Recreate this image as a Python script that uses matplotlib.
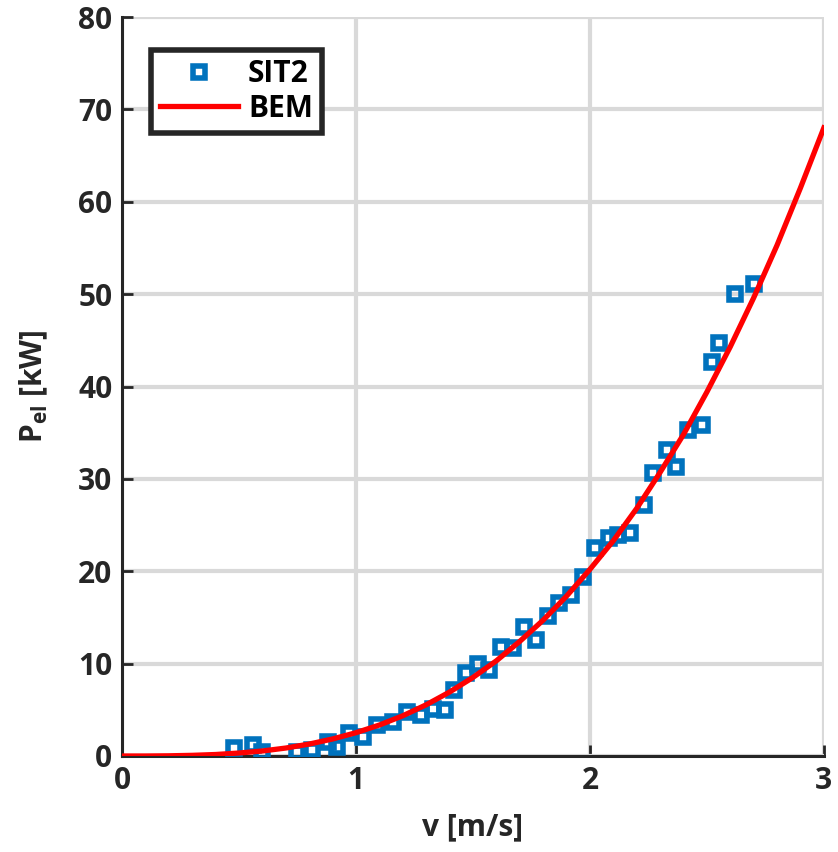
import numpy as np
import matplotlib
matplotlib.use('Agg')
import matplotlib.pyplot as plt

# measured points (SIT2)
v_sit2 = [0.48, 0.56, 0.60, 0.75, 0.81, 0.88, 0.92, 0.97, 1.03, 1.09, 1.16, 1.22,
          1.28, 1.33, 1.38, 1.42, 1.47, 1.52, 1.57, 1.62, 1.67, 1.72, 1.77, 1.82,
          1.87, 1.92, 1.97, 2.02, 2.08, 2.12, 2.17, 2.23, 2.27, 2.33, 2.37, 2.42,
          2.48, 2.52, 2.55, 2.62, 2.70]
p_sit2 = [0.9, 1.2, 0.4, 0.4, 0.7, 1.5, 1.0, 2.5, 2.1, 3.4, 3.7, 4.8,
          4.4, 5.1, 5.0, 7.1, 9.0, 10.0, 9.3, 11.8, 11.7, 14.0, 12.6, 15.2,
          16.6, 17.4, 19.4, 22.5, 23.6, 23.9, 24.1, 27.2, 30.6, 33.1, 31.3, 35.3,
          35.8, 42.6, 44.7, 50.0, 51.1]

# BEM curve
v_bem = [0.0, 0.1, 0.2, 0.3, 0.4, 0.5, 0.6, 0.7, 0.8, 0.9, 1.0, 1.1, 1.2, 1.3, 1.4,
         1.5, 1.6, 1.7, 1.8, 1.9, 2.0, 2.1, 2.2, 2.3, 2.4, 2.5, 2.6, 2.7, 2.8, 2.9, 3.0]
p_bem = [0.0, 0.0, 0.02, 0.07, 0.16, 0.32, 0.54, 0.86, 1.29, 1.84, 2.52, 3.35, 4.35,
         5.54, 6.92, 8.5, 10.3, 12.4, 14.7, 17.3, 20.2, 23.3, 26.8, 30.7, 34.8,
         39.4, 44.3, 49.6, 55.3, 61.5, 68.0]

plt.rcParams['font.family'] = ['Open Sans', 'DejaVu Sans']
plt.rcParams['font.weight'] = 'bold'
plt.rcParams['mathtext.fontset'] = 'custom'
plt.rcParams['mathtext.rm'] = 'Open Sans:bold'
plt.rcParams['mathtext.it'] = 'Open Sans:bold'
plt.rcParams['mathtext.bf'] = 'Open Sans:bold'

txt = '#262626'
fs = 21.5

fig = plt.figure(figsize=(8.38, 8.52), dpi=100)
ax = fig.add_axes([0.1456, 0.1127, 0.8375, 0.8673])

ax.plot(v_sit2, p_sit2, 's', color='#0072BD', markerfacecolor='none',
        markersize=9, markeredgewidth=4, label='SIT2', zorder=3)
ax.plot(v_bem, p_bem, '-', color='#FF0000', linewidth=3.8, label='BEM', zorder=4)

ax.set_xlim(0, 3)
ax.set_ylim(0, 80)
ax.set_xticks([0, 1, 2, 3])
ax.set_yticks(np.arange(0, 81, 10))
ax.grid(True, color='#d9d9d9', linewidth=3)
ax.set_axisbelow(True)

for s in ['top', 'right']:
    ax.spines[s].set_visible(False)
for s in ['left', 'bottom']:
    ax.spines[s].set_linewidth(2.2)
    ax.spines[s].set_color(txt)

ax.tick_params(direction='in', length=8, width=2, labelsize=fs, color=txt,
               labelcolor=txt, pad=7)
for lbl in ax.get_xticklabels() + ax.get_yticklabels():
    lbl.set_fontweight('bold')

ax.set_xlabel('v [m/s]', fontsize=fs, fontweight='bold', labelpad=12, color=txt)
ax.set_ylabel(r'P$_{\mathrm{el}}$ [kW]', fontsize=fs, fontweight='bold', labelpad=20, color=txt)

leg = ax.legend(loc='upper left', bbox_to_anchor=(0.02, 0.975),
                fancybox=False, framealpha=1, edgecolor=txt,
                handlelength=2.6, handletextpad=0.35, borderpad=0.3,
                labelspacing=0.15, markerscale=0.9,
                prop={'weight': 'bold', 'size': fs})
leg.get_frame().set_linewidth(4)
for t in leg.get_texts():
    t.set_color('black')

fig.savefig('out.png', dpi=100)
